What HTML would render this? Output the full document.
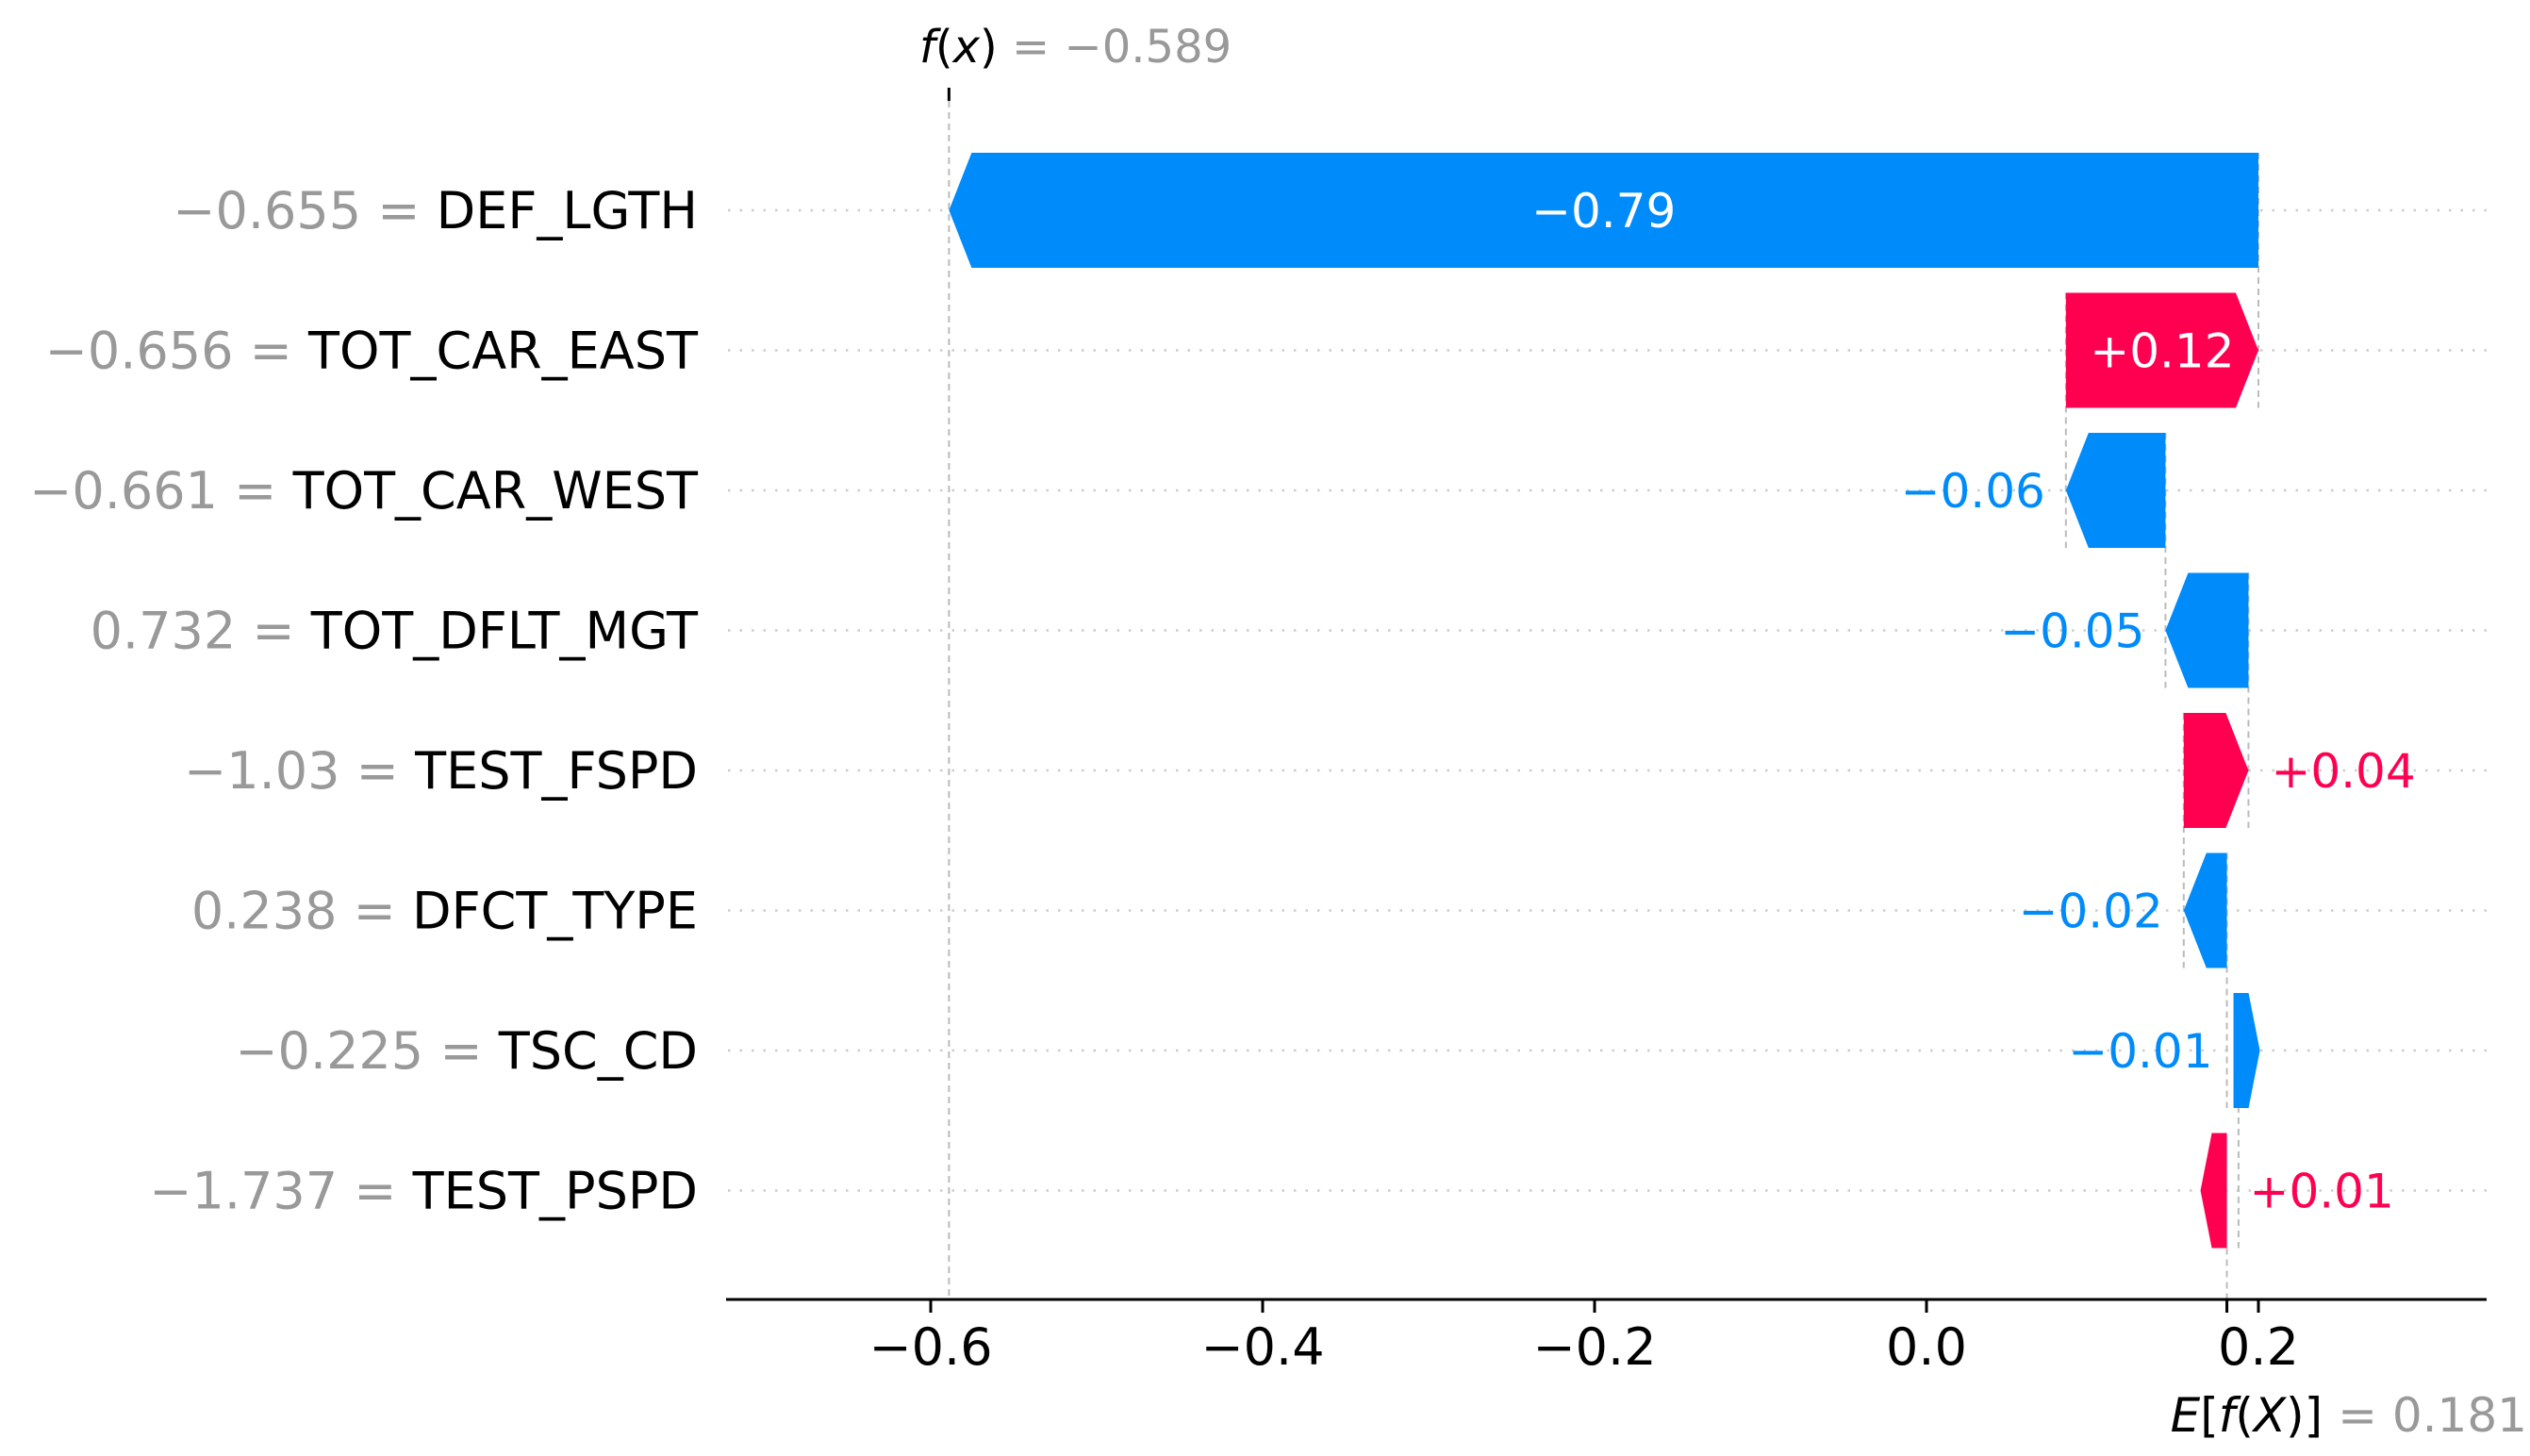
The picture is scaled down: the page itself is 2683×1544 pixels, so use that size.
<!DOCTYPE html>
<html><head><meta charset="utf-8"><style>
html,body{margin:0;padding:0;background:#fff;}
svg{display:block;font-family:"DejaVu Sans","Liberation Sans",sans-serif;}
</style></head><body>
<svg id="chart" width="2683" height="1544" viewBox="0 0 2683 1544" xmlns="http://www.w3.org/2000/svg"></svg>
<script>
const featureNames = ["DEF_LGTH","TOT_CAR_EAST","TOT_CAR_WEST","TOT_DFLT_MGT","TEST_FSPD","DFCT_TYPE","TSC_CD","TEST_PSPD"];
const featureValues = ["\u22120.655","\u22120.656","\u22120.661","0.732","\u22121.03","0.238","\u22120.225","\u22121.737"];
const shapValues = [-0.789, 0.116, -0.060, -0.050, 0.039, -0.026, -0.007, 0.007];
const valueLabels = ["\u22120.79","+0.12","\u22120.06","\u22120.05","+0.04","\u22120.02","\u22120.01","+0.01"];
const baseValue = 0.181;
const outputValue = -0.589;
const xTicks = [-0.6,-0.4,-0.2,0.0,0.2];
const xTickLabels = ["\u22120.6","\u22120.4","\u22120.2","0.0","0.2"];

const NS="http://www.w3.org/2000/svg";
const svg=document.getElementById('chart');
const X0=2043, XS=1760;
function xs(v){return X0+v*XS;}
function ys(i){return 223+i*148.5;}
const BH=122, HL=24, BLUE="#008bfb", RED="#ff0051";
function mk(tag,attrs,parent){const e=document.createElementNS(NS,tag);for(const k in attrs)e.setAttribute(k,attrs[k]);(parent||svg).appendChild(e);return e;}

const gGrid=mk('g',{});


const gLines=mk('g',{});


const gBars=mk('g',{});


const gLabels=mk('g',{});



const n=featureNames.length;
const starts=new Array(n), ends=new Array(n);
let cur=baseValue;
for(let i=n-1;i>=0;i--){starts[i]=cur;cur=cur+shapValues[i];ends[i]=cur;}

for(let i=0;i<n;i++){
  const y=ys(i);
  const gl=mk('line',{x1:772,x2:2640,y1:y,y2:y,stroke:"#cccccc","stroke-width":2.5,"stroke-dasharray":"2.5 10"},gGrid);
  
  

  const t=mk('text',{x:740,y:y+19,"text-anchor":"end","font-size":54},gLabels);
  
  
  const t1=mk('tspan',{fill:"#999999"},t);t1.textContent=featureValues[i]+" = ";
  const t2=mk('tspan',{fill:"#000000"},t);t2.textContent=featureNames[i];

  const s=starts[i], e=ends[i], v=shapValues[i];
  const col=v>=0?RED:BLUE;
  const top=y-BH/2, bot=y+BH/2;
  const xsP=xs(s), xeP=xs(e);
  let pts;
  const tiny=Math.abs(xeP-xsP)<HL;
  if(!tiny){
    if(v<0){pts=[[xsP,top],[xeP+HL,top],[xeP,y],[xeP+HL,bot],[xsP,bot]];}
    else{pts=[[xsP,top],[xeP-HL,top],[xeP,y],[xeP-HL,bot],[xsP,bot]];}
  } else {
    if(v>=0){pts=[[xsP,top],[xsP-16,top],[xsP-28,y],[xsP-16,bot],[xsP,bot]];}
    else{const f=xeP+7;pts=[[f,top],[f+16,top],[f+28,y],[f+16,bot],[f,bot]];}
  }
  const p=mk('polygon',{points:pts.map(q=>q.join(',')).join(' '),fill:col},gBars);
  
  

  const w=Math.abs(xeP-xsP);
  let lab;
  if(w>170){
    lab=mk('text',{x:(xsP+xeP)/2,y:y+18,"text-anchor":"middle","font-size":50,fill:"#ffffff"},gBars);
  } else if(v<0){
    const tip=tiny?Math.min(...pts.map(q=>q[0])):xeP;
    lab=mk('text',{x:tip-22,y:y+18,"text-anchor":"end","font-size":50,fill:BLUE},gBars);
  } else {
    const tip=tiny?Math.max(...pts.map(q=>q[0])):xeP;
    lab=mk('text',{x:tip+24,y:y+18,"text-anchor":"start","font-size":50,fill:RED},gBars);
  }
  lab.textContent=valueLabels[i];
  
  

  if(i<n-1){
    const cl=mk('line',{x1:xs(s),x2:xs(s),y1:top,y2:ys(i+1)+BH/2,stroke:"#bbbbbb","stroke-width":2,"stroke-dasharray":"7 5"},gLines);
    
    
  }
}
const AX_Y=1378;
const fl=mk('line',{x1:xs(outputValue),x2:xs(outputValue),y1:107,y2:AX_Y,stroke:"#bbbbbb","stroke-width":2,"stroke-dasharray":"7 5"},gLines);


const el=mk('line',{x1:xs(baseValue),x2:xs(baseValue),y1:ys(n-1)+BH/2,y2:AX_Y,stroke:"#bbbbbb","stroke-width":2,"stroke-dasharray":"7 5"},gLines);



const ax=mk('line',{x1:770,x2:2637,y1:AX_Y,y2:AX_Y,stroke:"#000","stroke-width":3});


for(let k=0;k<xTicks.length;k++){
  const x=xs(xTicks[k]);
  const tk=mk('line',{x1:x,x2:x,y1:AX_Y,y2:AX_Y+14,stroke:"#000","stroke-width":3});
  
  
  const tl=mk('text',{x:x,y:AX_Y+69,"text-anchor":"middle","font-size":54,fill:"#000"});
  tl.textContent=xTickLabels[k];
  
  
}
const etk=mk('line',{x1:xs(baseValue),x2:xs(baseValue),y1:AX_Y,y2:AX_Y+14,stroke:"#000","stroke-width":3});


const ftk=mk('line',{x1:xs(outputValue),x2:xs(outputValue),y1:93,y2:107,stroke:"#000","stroke-width":3});



const ft=mk('text',{x:975,y:66,"font-size":48});


const f1=mk('tspan',{fill:"#000","font-style":"italic"},ft);f1.textContent="f";
const f2=mk('tspan',{fill:"#000"},ft);f2.textContent="(";
const f3=mk('tspan',{fill:"#000","font-style":"italic"},ft);f3.textContent="x";
const f4=mk('tspan',{fill:"#000"},ft);f4.textContent=")";
const f5=mk('tspan',{fill:"#999999"},ft);f5.textContent=" = \u2212"+Math.abs(outputValue).toFixed(3);

const et=mk('text',{x:2680,y:1518,"font-size":50,"text-anchor":"end"});


const e1=mk('tspan',{fill:"#000","font-style":"italic"},et);e1.textContent="E";
const e2=mk('tspan',{fill:"#000"},et);e2.textContent="[";
const e3=mk('tspan',{fill:"#000","font-style":"italic"},et);e3.textContent="f";
const e4=mk('tspan',{fill:"#000"},et);e4.textContent="(";
const e5=mk('tspan',{fill:"#000","font-style":"italic"},et);e5.textContent="X";
const e6=mk('tspan',{fill:"#000"},et);e6.textContent=")]";
const e7=mk('tspan',{fill:"#999999"},et);e7.textContent=" = "+baseValue.toFixed(3);
</script>
</body></html>
